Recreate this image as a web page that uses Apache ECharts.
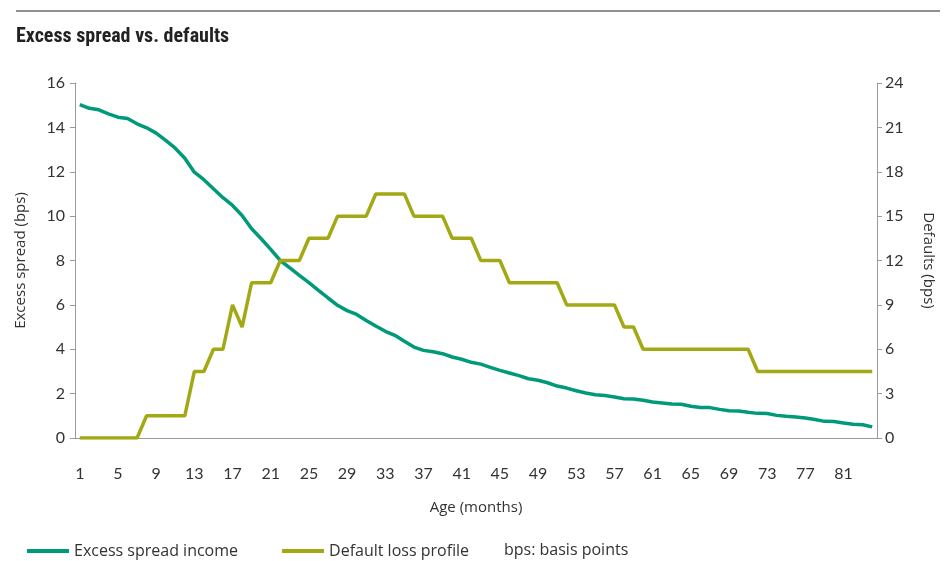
<!DOCTYPE html>
<html><head><meta charset="utf-8">
<script src="https://cdn.jsdelivr.net/npm/echarts@6/dist/echarts.min.js"></script>
<style>html,body{margin:0;padding:0;background:#fff}#c{width:952px;height:561px}</style>
</head><body><div id="c"></div>
<script>
const months = Array.from({length: 84}, (_, i) => String(i + 1));
const excessSpread = [
  15.03, 14.86, 14.79, 14.61, 14.46, 14.40, 14.16, 13.98, 13.74, 13.41,
  13.06, 12.61, 11.98, 11.64, 11.23, 10.83, 10.48, 10.03, 9.43, 8.98,
  8.50, 8.00, 7.67, 7.33, 7.00, 6.65, 6.31, 5.98, 5.74, 5.57,
  5.30, 5.05, 4.81, 4.63, 4.36, 4.10, 3.95, 3.89, 3.80, 3.65,
  3.55, 3.41, 3.33, 3.18, 3.05, 2.93, 2.81, 2.67, 2.60, 2.49,
  2.34, 2.25, 2.13, 2.03, 1.95, 1.92, 1.85, 1.77, 1.76, 1.70,
  1.62, 1.58, 1.53, 1.52, 1.43, 1.37, 1.37, 1.29, 1.23, 1.22,
  1.16, 1.11, 1.10, 1.02, 0.98, 0.95, 0.90, 0.83, 0.75, 0.74,
  0.68, 0.62, 0.60, 0.50
];
const defaultLoss = [
  0, 0, 0, 0, 0, 0, 0, 1.5, 1.5, 1.5,
  1.5, 1.5, 4.5, 4.5, 6, 6, 9, 7.5, 10.5, 10.5,
  10.5, 12, 12, 12, 13.5, 13.5, 13.5, 15, 15, 15,
  15, 16.5, 16.5, 16.5, 16.5, 15, 15, 15, 15, 13.5,
  13.5, 13.5, 12, 12, 12, 10.5, 10.5, 10.5, 10.5, 10.5,
  10.5, 9, 9, 9, 9, 9, 9, 7.5, 7.5, 6,
  6, 6, 6, 6, 6, 6, 6, 6, 6, 6,
  6, 4.5, 4.5, 4.5, 4.5, 4.5, 4.5, 4.5, 4.5, 4.5,
  4.5, 4.5, 4.5, 4.5
];
const titleText = 'Excess spread vs. defaults';
const noteText = 'bps: basis points';

const GREEN = '#009a7a', OLIVE = '#a3a815', AX = '#9a9a9a', TXT = '#333';
const FONT = 'Lato, "Open Sans", sans-serif';
const FONT2 = '"Open Sans", Lato, sans-serif';
const chart = echarts.init(document.getElementById('c'));
chart.setOption({
  animation: false,
  textStyle: {fontFamily: FONT},
  graphic: [
    {type: 'line', shape: {x1: 16, y1: 11, x2: 940, y2: 11}, style: {stroke: '#222', lineWidth: 1}},
    {type: 'text', left: 16, top: 27, style: {text: titleText, font: 'bold 20px "Liberation Sans Narrow", "Roboto Condensed", "Liberation Sans", sans-serif', fill: '#222'}},
    {type: 'text', x: 504, y: 550, style: {text: noteText, font: '16px ' + FONT2, fill: TXT, textVerticalAlign: 'middle', verticalAlign: 'middle'}}
  ],
  legend: {
    left: 22, top: 538, icon: 'rect', itemWidth: 42, itemHeight: 4, itemGap: 44,
    textStyle: {fontSize: 16, color: TXT, fontFamily: FONT2},
    data: ['Excess spread income', 'Default loss profile']
  },
  grid: {left: 75, right: 75, top: 83, bottom: 123},
  xAxis: {
    type: 'category', data: months, boundaryGap: true,
    name: 'Age (months)', nameLocation: 'middle', nameGap: 62,
    nameTextStyle: {fontSize: 15, color: TXT, fontFamily: FONT2},
    axisLine: {lineStyle: {color: AX}},
    axisTick: {interval: 0, length: 6, lineStyle: {color: AX}},
    axisLabel: {interval: 3, margin: 28, fontSize: 16, color: TXT}
  },
  yAxis: [
    {
      type: 'value', min: 0, max: 16, interval: 2, position: 'left',
      name: 'Excess spread (bps)', nameLocation: 'middle', nameGap: 47,
      nameTextStyle: {fontSize: 15, color: TXT, fontFamily: FONT2},
      axisLine: {show: true, lineStyle: {color: AX}},
      axisTick: {show: true, length: 5, lineStyle: {color: AX}},
      axisLabel: {margin: 10, fontSize: 16, color: TXT},
      splitLine: {show: false}
    },
    {
      type: 'value', min: 0, max: 24, interval: 3, position: 'right',
      name: 'Defaults (bps)', nameLocation: 'middle', nameGap: 44, nameRotate: -90,
      nameTextStyle: {fontSize: 15, color: TXT, fontFamily: FONT2},
      axisLine: {show: true, lineStyle: {color: AX}},
      axisTick: {show: true, length: 5, lineStyle: {color: AX}},
      axisLabel: {margin: 8, fontSize: 16, color: TXT},
      splitLine: {show: false}
    }
  ],
  series: [
    {name: 'Excess spread income', type: 'line', data: excessSpread, yAxisIndex: 0,
     showSymbol: false, symbol: 'none', lineStyle: {color: GREEN, width: 3.5}, itemStyle: {color: GREEN}},
    {name: 'Default loss profile', type: 'line', data: defaultLoss, yAxisIndex: 1,
     showSymbol: false, symbol: 'none', lineStyle: {color: OLIVE, width: 3.5}, itemStyle: {color: OLIVE}}
  ]
});
</script></body></html>
